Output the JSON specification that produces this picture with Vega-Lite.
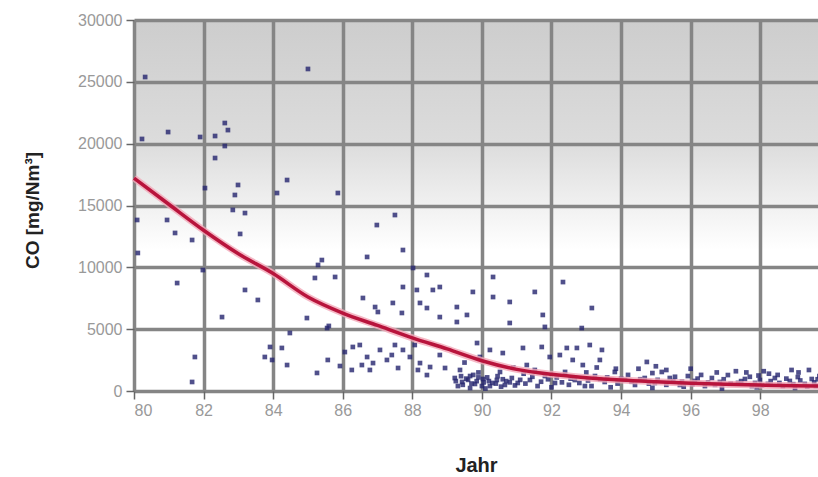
{
  "$schema": "https://vega.github.io/schema/vega-lite/v6.json",
  "autosize": {"type": "none"},
  "padding": {"left": 134, "top": 20, "right": 0, "bottom": 86},
  "width": 684,
  "height": 371,
  "background": "white",
  "config": {
    "view": {
      "stroke": null,
      "fill": {"gradient": "linear", "x1": 0, "y1": 0, "x2": 0, "y2": 1, "stops": [{"offset": 0, "color": "#cdcdcd"}, {"offset": 0.33, "color": "#dcdcdc"}, {"offset": 0.62, "color": "#ffffff"}, {"offset": 1, "color": "#ffffff"}]}
    },
    "axis": {
      "grid": true,
      "gridColor": "#858585",
      "gridWidth": 3.5,
      "gridOpacity": 1,
      "domain": false,
      "tickColor": "#666666",
      "tickSize": 8,
      "tickWidth": 1.5,
      "labelColor": "#999999",
      "labelFont": "Liberation Sans",
      "labelFontSize": 16,
      "titleFont": "Liberation Sans",
      "titleFontWeight": "bold",
      "titleColor": "#222222"
    }
  },
  "datasets": {
    "pts": [
      {"jahr": 1980.32, "co": 25390}, {"jahr": 1980.23, "co": 20380}, {"jahr": 1980.98, "co": 20940}, {"jahr": 1981.90, "co": 20540},
      {"jahr": 1982.33, "co": 20620}, {"jahr": 1982.61, "co": 21670}, {"jahr": 1982.70, "co": 21100}, {"jahr": 1982.61, "co": 19810},
      {"jahr": 1982.33, "co": 18840}, {"jahr": 1982.04, "co": 16410}, {"jahr": 1982.99, "co": 16660}, {"jahr": 1982.90, "co": 15850},
      {"jahr": 1984.11, "co": 16010}, {"jahr": 1984.40, "co": 17060}, {"jahr": 1982.84, "co": 14640}, {"jahr": 1983.19, "co": 14390},
      {"jahr": 1980.09, "co": 13830}, {"jahr": 1980.95, "co": 13830}, {"jahr": 1981.18, "co": 12780}, {"jahr": 1981.67, "co": 12210},
      {"jahr": 1983.05, "co": 12700}, {"jahr": 1985.00, "co": 26040}, {"jahr": 1985.86, "co": 16010}, {"jahr": 1987.50, "co": 14230},
      {"jahr": 1986.98, "co": 13420}, {"jahr": 1987.73, "co": 11400}, {"jahr": 1986.70, "co": 10840}, {"jahr": 1985.40, "co": 10590},
      {"jahr": 1985.29, "co": 10190}, {"jahr": 1985.20, "co": 9140}, {"jahr": 1981.98, "co": 9780}, {"jahr": 1981.24, "co": 8730},
      {"jahr": 1980.11, "co": 11160}, {"jahr": 1983.19, "co": 8170}, {"jahr": 1983.56, "co": 7360}, {"jahr": 1982.53, "co": 5980},
      {"jahr": 1984.97, "co": 5900}, {"jahr": 1985.78, "co": 9220}, {"jahr": 1988.02, "co": 9950}, {"jahr": 1988.42, "co": 9380},
      {"jahr": 1987.73, "co": 8410}, {"jahr": 1988.13, "co": 8170}, {"jahr": 1988.59, "co": 8170}, {"jahr": 1988.79, "co": 8410},
      {"jahr": 1989.74, "co": 8010}, {"jahr": 1990.32, "co": 9220}, {"jahr": 1990.32, "co": 7600}, {"jahr": 1990.80, "co": 7200},
      {"jahr": 1986.58, "co": 7520}, {"jahr": 1986.93, "co": 6790}, {"jahr": 1987.01, "co": 6390}, {"jahr": 1987.44, "co": 7120},
      {"jahr": 1987.70, "co": 6310}, {"jahr": 1988.22, "co": 7120}, {"jahr": 1988.42, "co": 6710}, {"jahr": 1989.28, "co": 6790},
      {"jahr": 1988.79, "co": 5980}, {"jahr": 1989.28, "co": 5580}, {"jahr": 1989.57, "co": 6150}, {"jahr": 1990.80, "co": 5500},
      {"jahr": 1985.55, "co": 5090}, {"jahr": 1992.33, "co": 8810}, {"jahr": 1991.52, "co": 8010}, {"jahr": 1993.16, "co": 6710},
      {"jahr": 1991.75, "co": 6150}, {"jahr": 1992.87, "co": 5090}, {"jahr": 1991.81, "co": 5180}, {"jahr": 1984.48, "co": 4690},
      {"jahr": 1983.91, "co": 3560}, {"jahr": 1983.76, "co": 2750}, {"jahr": 1983.97, "co": 2510}, {"jahr": 1984.25, "co": 3480},
      {"jahr": 1984.40, "co": 2100}, {"jahr": 1981.75, "co": 2750}, {"jahr": 1981.67, "co": 730}, {"jahr": 1985.26, "co": 1460},
      {"jahr": 1994.74, "co": 2350}, {"jahr": 1985.60, "co": 5260},
      {"jahr": 1986.06, "co": 3150}, {"jahr": 1986.29, "co": 3560}, {"jahr": 1986.70, "co": 2750}, {"jahr": 1987.07, "co": 3320},
      {"jahr": 1986.87, "co": 2260}, {"jahr": 1987.27, "co": 2510}, {"jahr": 1987.73, "co": 3320}, {"jahr": 1987.93, "co": 2750},
      {"jahr": 1988.22, "co": 2260}, {"jahr": 1988.51, "co": 1940}, {"jahr": 1986.26, "co": 1700}, {"jahr": 1986.78, "co": 1700},
      {"jahr": 1988.42, "co": 1290}, {"jahr": 1985.57, "co": 2510}, {"jahr": 1986.49, "co": 3720}, {"jahr": 1987.50, "co": 3720},
      {"jahr": 1988.07, "co": 3720}, {"jahr": 1988.79, "co": 2910}, {"jahr": 1986.55, "co": 2100}, {"jahr": 1987.59, "co": 1860},
      {"jahr": 1988.16, "co": 1700}, {"jahr": 1985.92, "co": 2020}, {"jahr": 1987.41, "co": 2910}, {"jahr": 1988.94, "co": 1860},
      {"jahr": 1989.86, "co": 3880}, {"jahr": 1989.94, "co": 2750}, {"jahr": 1990.23, "co": 3320}, {"jahr": 1990.60, "co": 3070},
      {"jahr": 1989.37, "co": 1700}, {"jahr": 1989.22, "co": 1050}, {"jahr": 1989.43, "co": 730}, {"jahr": 1989.66, "co": 1210},
      {"jahr": 1989.80, "co": 570}, {"jahr": 1990.03, "co": 970}, {"jahr": 1990.23, "co": 400}, {"jahr": 1990.43, "co": 890},
      {"jahr": 1990.66, "co": 490}, {"jahr": 1990.86, "co": 1050}, {"jahr": 1991.03, "co": 650}, {"jahr": 1989.66, "co": 240},
      {"jahr": 1989.31, "co": 400}, {"jahr": 1990.52, "co": 1540}, {"jahr": 1991.18, "co": 3480}, {"jahr": 1991.72, "co": 3560},
      {"jahr": 1992.44, "co": 3480}, {"jahr": 1992.73, "co": 3480}, {"jahr": 1993.10, "co": 3720}, {"jahr": 1993.45, "co": 3320},
      {"jahr": 1991.95, "co": 2750}, {"jahr": 1992.24, "co": 2910}, {"jahr": 1992.61, "co": 2510}, {"jahr": 1993.39, "co": 2510},
      {"jahr": 1991.29, "co": 2100}, {"jahr": 1991.52, "co": 1700}, {"jahr": 1991.38, "co": 890}, {"jahr": 1991.81, "co": 1210},
      {"jahr": 1992.10, "co": 650}, {"jahr": 1992.39, "co": 1540}, {"jahr": 1992.67, "co": 890}, {"jahr": 1992.96, "co": 400},
      {"jahr": 1993.25, "co": 1210}, {"jahr": 1993.53, "co": 730}, {"jahr": 1993.82, "co": 1540}, {"jahr": 1994.11, "co": 890},
      {"jahr": 1994.40, "co": 490}, {"jahr": 1994.68, "co": 1050}, {"jahr": 1994.97, "co": 650}, {"jahr": 1995.17, "co": 1540},
      {"jahr": 1995.40, "co": 1050}, {"jahr": 1995.69, "co": 490}, {"jahr": 1995.92, "co": 1210}, {"jahr": 1996.12, "co": 810},
      {"jahr": 1996.41, "co": 400}, {"jahr": 1996.61, "co": 1050}, {"jahr": 1996.84, "co": 730}, {"jahr": 1997.07, "co": 1290},
      {"jahr": 1997.36, "co": 650}, {"jahr": 1997.56, "co": 970}, {"jahr": 1997.76, "co": 400}, {"jahr": 1997.99, "co": 890},
      {"jahr": 1998.22, "co": 570}, {"jahr": 1998.42, "co": 1050}, {"jahr": 1998.65, "co": 400}, {"jahr": 1998.85, "co": 810},
      {"jahr": 1999.08, "co": 1130}, {"jahr": 1999.28, "co": 570}, {"jahr": 1999.48, "co": 970}, {"jahr": 1999.60, "co": 400},
      {"jahr": 1992.0, "co": 300}, {"jahr": 1992.5, "co": 500}, {"jahr": 1993.0, "co": 1500}, {"jahr": 1993.7, "co": 300},
      {"jahr": 1994.2, "co": 1300}, {"jahr": 1994.9, "co": 250}, {"jahr": 1995.5, "co": 800}, {"jahr": 1996.3, "co": 1300},
      {"jahr": 1996.9, "co": 200}, {"jahr": 1997.3, "co": 1600}, {"jahr": 1997.9, "co": 300}, {"jahr": 1998.5, "co": 1300},
      {"jahr": 1999.0, "co": 250}, {"jahr": 1999.4, "co": 1700}, {"jahr": 1995.0, "co": 2000}, {"jahr": 1996.0, "co": 1800},
      {"jahr": 1993.3, "co": 1900}, {"jahr": 1994.5, "co": 1800}, {"jahr": 1991.6, "co": 400}, {"jahr": 1990.9, "co": 1900},
      {"jahr": 1989.9, "co": 1500}, {"jahr": 1990.1, "co": 200}, {"jahr": 1989.5, "co": 2300}, {"jahr": 1991.2, "co": 1400},
      {"jahr": 1995.8, "co": 350}, {"jahr": 1997.6, "co": 1500}, {"jahr": 1998.9, "co": 1700}, {"jahr": 1999.7, "co": 1200},
      {"jahr": 1998.1, "co": 1600}, {"jahr": 1989.6, "co": 900}, {"jahr": 1989.9, "co": 1100}, {"jahr": 1990.2, "co": 800},
      {"jahr": 1990.4, "co": 600}, {"jahr": 1989.4, "co": 1200}, {"jahr": 1990.0, "co": 400}, {"jahr": 1989.7, "co": 600},
      {"jahr": 1990.6, "co": 950}, {"jahr": 1990.8, "co": 700},
      {"jahr": 1989.25, "co": 800}, {"jahr": 1989.45, "co": 500}, {"jahr": 1989.55, "co": 1000}, {"jahr": 1989.75, "co": 1300},
      {"jahr": 1989.85, "co": 800}, {"jahr": 1990.05, "co": 700}, {"jahr": 1990.15, "co": 1100}, {"jahr": 1990.3, "co": 650},
      {"jahr": 1990.45, "co": 1200}, {"jahr": 1990.55, "co": 350}, {"jahr": 1990.7, "co": 800}, {"jahr": 1990.95, "co": 450},
      {"jahr": 1991.1, "co": 900}, {"jahr": 1991.25, "co": 600}, {"jahr": 1991.45, "co": 1150}, {"jahr": 1991.7, "co": 750},
      {"jahr": 1991.9, "co": 950}, {"jahr": 1992.15, "co": 1100}, {"jahr": 1992.3, "co": 700}, {"jahr": 1992.55, "co": 1000},
      {"jahr": 1992.8, "co": 650}, {"jahr": 1993.05, "co": 850}, {"jahr": 1993.15, "co": 400}, {"jahr": 1993.4, "co": 950},
      {"jahr": 1993.6, "co": 1100}, {"jahr": 1993.9, "co": 600}, {"jahr": 1994.0, "co": 1000}, {"jahr": 1994.3, "co": 750},
      {"jahr": 1994.55, "co": 950}, {"jahr": 1994.8, "co": 600}, {"jahr": 1995.05, "co": 900}, {"jahr": 1995.3, "co": 500},
      {"jahr": 1995.55, "co": 1150}, {"jahr": 1995.75, "co": 750}, {"jahr": 1996.05, "co": 550}, {"jahr": 1996.2, "co": 1000},
      {"jahr": 1996.5, "co": 700}, {"jahr": 1996.7, "co": 500}, {"jahr": 1996.95, "co": 950}, {"jahr": 1997.15, "co": 600},
      {"jahr": 1997.45, "co": 800}, {"jahr": 1997.7, "co": 1150}, {"jahr": 1997.85, "co": 650}, {"jahr": 1998.05, "co": 450},
      {"jahr": 1998.3, "co": 800}, {"jahr": 1998.55, "co": 650}, {"jahr": 1998.75, "co": 1000}, {"jahr": 1998.95, "co": 550},
      {"jahr": 1999.15, "co": 850}, {"jahr": 1999.35, "co": 350}, {"jahr": 1999.55, "co": 700}, {"jahr": 1999.65, "co": 950},
      {"jahr": 1993.85, "co": 1800}, {"jahr": 1995.3, "co": 1700}, {"jahr": 1996.75, "co": 1500}, {"jahr": 1998.25, "co": 1400},
      {"jahr": 1999.1, "co": 1500}, {"jahr": 1992.9, "co": 2100}, {"jahr": 1994.9, "co": 1450}, {"jahr": 1997.95, "co": 1250}
    ],
    "fit": [
      {"jahr": 1980, "co": 17220}, {"jahr": 1981, "co": 15100}, {"jahr": 1982, "co": 13000}, {"jahr": 1983, "co": 11100},
      {"jahr": 1984, "co": 9500}, {"jahr": 1985, "co": 7600}, {"jahr": 1986, "co": 6300}, {"jahr": 1987, "co": 5300},
      {"jahr": 1988, "co": 4300}, {"jahr": 1989, "co": 3400}, {"jahr": 1990, "co": 2450}, {"jahr": 1991, "co": 1750},
      {"jahr": 1992, "co": 1350}, {"jahr": 1993, "co": 1080}, {"jahr": 1994, "co": 880}, {"jahr": 1995, "co": 740},
      {"jahr": 1996, "co": 620}, {"jahr": 1997, "co": 540}, {"jahr": 1998, "co": 480}, {"jahr": 1999, "co": 430},
      {"jahr": 1999.66, "co": 410}
    ]
  },
  "encoding": {
    "x": {
      "field": "jahr", "type": "quantitative",
      "scale": {"domain": [1980, 1999.66], "nice": false, "zero": false},
      "axis": {
        "values": [1980, 1982, 1984, 1986, 1988, 1990, 1992, 1994, 1996, 1998],
        "format": "d",
        "labelExpr": "substring(toString(datum.value), 2, 4)",
        "labelPadding": 3,
        "title": "Jahr",
        "titleFontSize": 20,
        "titleY": 74,
        "titleBaseline": "middle"
      }
    },
    "y": {
      "field": "co", "type": "quantitative",
      "scale": {"domain": [0, 30000], "nice": false},
      "axis": {
        "values": [0, 5000, 10000, 15000, 20000, 25000, 30000],
        "format": "d",
        "labelPadding": 4,
        "title": "CO [mg/Nm³]",
        "titleFontSize": 19,
        "titleAngle": -90,
        "titleX": -102,
        "titleY": 190,
        "titleAlign": "center",
        "titleBaseline": "middle"
      }
    }
  },
  "layer": [
    {
      "data": {"name": "pts"},
      "mark": {"type": "square", "size": 22, "color": "#24246e", "opacity": 0.8}
    },
    {
      "data": {"name": "fit"},
      "mark": {"type": "line", "color": "#f2a8b8", "strokeWidth": 7, "interpolate": "monotone", "opacity": 0.8}
    },
    {
      "data": {"name": "fit"},
      "mark": {"type": "line", "color": "#b8143c", "strokeWidth": 3.5, "interpolate": "monotone"}
    }
  ]
}
